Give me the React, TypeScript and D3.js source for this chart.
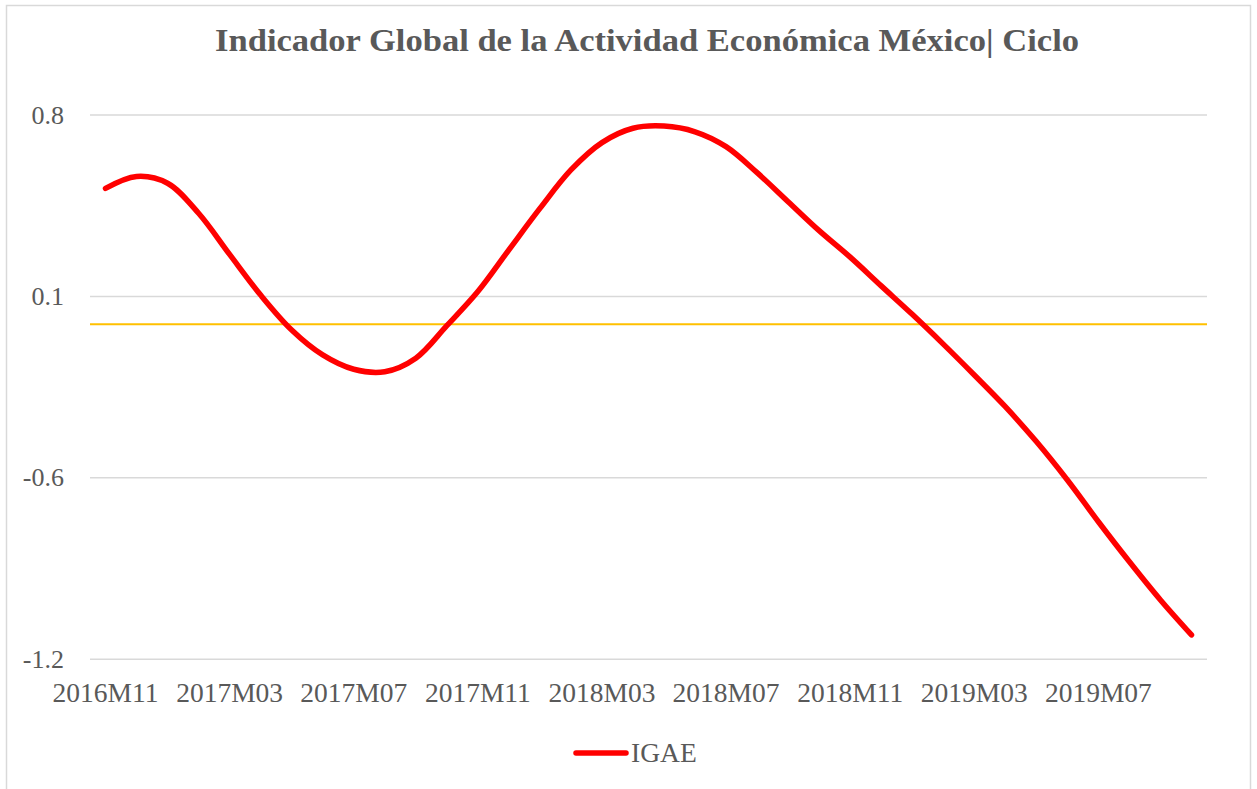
import React, { useEffect, useRef } from "react";
import * as d3 from "d3";

const months = [
  "2016M11", "2016M12",
  "2017M01", "2017M02", "2017M03", "2017M04", "2017M05", "2017M06",
  "2017M07", "2017M08", "2017M09", "2017M10", "2017M11", "2017M12",
  "2018M01", "2018M02", "2018M03", "2018M04", "2018M05", "2018M06",
  "2018M07", "2018M08", "2018M09", "2018M10", "2018M11", "2018M12",
  "2019M01", "2019M02", "2019M03", "2019M04", "2019M05", "2019M06",
  "2019M07", "2019M08", "2019M09", "2019M10",
];

const igae = [
  0.502, 0.546, 0.521, 0.41, 0.258, 0.108, -0.021, -0.113, -0.166, -0.175,
  -0.125, -0.005, 0.121, 0.275, 0.428, 0.57, 0.671, 0.724, 0.732, 0.711,
  0.656, 0.56, 0.453, 0.346, 0.248, 0.142, 0.037, -0.073, -0.187, -0.304,
  -0.433, -0.575, -0.729, -0.877, -1.018, -1.147,
];

// Excel auto axis: min and major unit are not round, labels shown with 1 decimal
const yTicks = [-1.237, -0.567, 0.103, 0.773];
const xTickLabels = [
  "2016M11", "2017M03", "2017M07", "2017M11", "2018M03",
  "2018M07", "2018M11", "2019M03", "2019M07",
];
const baseline = 0;

const title = "Indicador Global de la Actividad Económica México| Ciclo";
const seriesName = "IGAE";

const FONT = "'Palatino Linotype', 'Book Antiqua', Palatino, 'Liberation Serif', serif";

export default function App() {
  const ref = useRef<SVGSVGElement>(null);

  useEffect(() => {
    const svg = d3.select(ref.current);
    svg.selectAll("*").remove();

    const W = 1257, H = 789;
    const plot = { left: 90, right: 1207, top: 115, bottom: 659.3 };

    svg.append("rect").attr("width", W).attr("height", H).attr("fill", "#fff");
    svg
      .append("rect")
      .attr("x", 6.5)
      .attr("y", 5.5)
      .attr("width", 1244)
      .attr("height", 820)
      .attr("fill", "none")
      .attr("stroke", "#d9d9d9")
      .attr("stroke-width", 1.5);

    const x = d3
      .scaleBand()
      .domain(months)
      .range([plot.left, plot.right])
      .padding(0);
    const cx = (m) => x(m) + x.bandwidth() / 2;

    const y = d3
      .scaleLinear()
      .domain([yTicks[0], yTicks[yTicks.length - 1]])
      .range([plot.bottom, plot.top]);

    // gridlines
    svg
      .append("g")
      .selectAll("line")
      .data(yTicks)
      .enter()
      .append("line")
      .attr("x1", plot.left)
      .attr("x2", plot.right)
      .attr("y1", (d) => y(d))
      .attr("y2", (d) => y(d))
      .attr("stroke", "#d9d9d9")
      .attr("stroke-width", 1.5);

    // y labels
    svg
      .append("g")
      .selectAll("text")
      .data(yTicks)
      .enter()
      .append("text")
      .attr("x", 64)
      .attr("y", (d) => y(d) + 8.5)
      .attr("text-anchor", "end")
      .attr("font-family", FONT)
      .attr("font-size", 26)
      .attr("fill", "#595959")
      .text((d) => d3.format(".1f")(d).replace("−", "-"));

    // x labels
    svg
      .append("g")
      .selectAll("text")
      .data(xTickLabels)
      .enter()
      .append("text")
      .attr("x", (d) => cx(d))
      .attr("y", 702)
      .attr("text-anchor", "middle")
      .attr("font-family", FONT)
      .attr("font-size", 27.5)
      .attr("fill", "#595959")
      .text((d) => d);

    // zero line
    svg
      .append("line")
      .attr("x1", plot.left)
      .attr("x2", plot.right)
      .attr("y1", y(baseline))
      .attr("y2", y(baseline))
      .attr("stroke", "#ffc000")
      .attr("stroke-width", 2);

    const line = d3
      .line()
      .x((d, i) => cx(months[i]))
      .y((d) => y(d))
      .curve(d3.curveCatmullRom.alpha(0.5));

    svg
      .append("path")
      .datum(igae)
      .attr("d", line)
      .attr("fill", "none")
      .attr("stroke", "#ff0000")
      .attr("stroke-width", 5.5)
      .attr("stroke-linecap", "round")
      .attr("stroke-linejoin", "round");

    // title
    svg
      .append("text")
      .attr("x", 647)
      .attr("y", 51)
      .attr("text-anchor", "middle")
      .attr("font-family", FONT)
      .attr("font-weight", "bold")
      .attr("font-size", 32)
      .attr("textLength", 864)
      .attr("lengthAdjust", "spacingAndGlyphs")
      .attr("fill", "#595959")
      .text(title);

    // legend
    const lg = svg.append("g");
    lg.append("line")
      .attr("x1", 576)
      .attr("x2", 626)
      .attr("y1", 753)
      .attr("y2", 753)
      .attr("stroke", "#ff0000")
      .attr("stroke-width", 5.5)
      .attr("stroke-linecap", "round");
    lg.append("text")
      .attr("x", 631)
      .attr("y", 762)
      .attr("font-family", FONT)
      .attr("font-size", 27.5)
      .attr("fill", "#595959")
      .text(seriesName);
  }, []);

  return (
    <svg
      ref={ref}
      width={1257}
      height={789}
      style={{ position: "absolute", left: 0, top: 0 }}
    />
  );
}
